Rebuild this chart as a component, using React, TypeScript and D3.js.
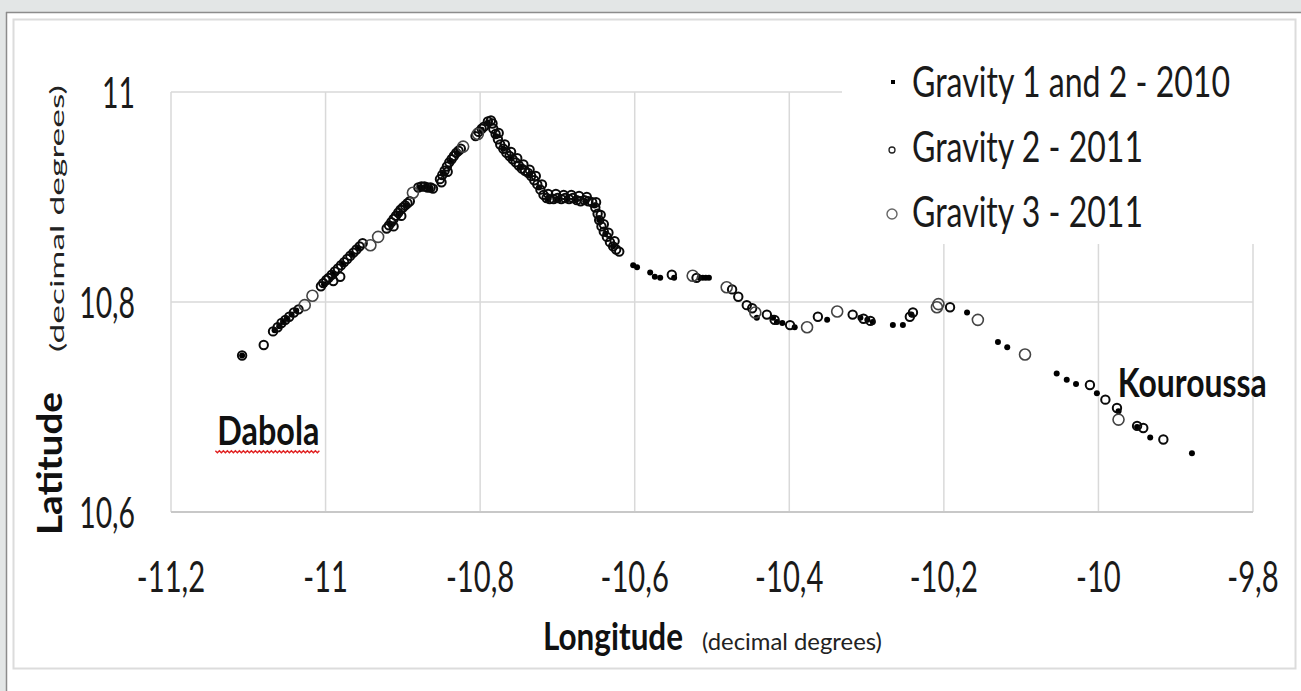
import React, { useLayoutEffect, useRef, useState } from "react";
import * as d3 from "d3";

// ---------- data (longitude, latitude in decimal degrees) ----------
const xTicks = [-11.2, -11, -10.8, -10.6, -10.4, -10.2, -10, -9.8];
const yTicks = [10.6, 10.8, 11];
const seriesNames = ["Gravity 1 and 2 - 2010", "Gravity 2 - 2011", "Gravity 3 - 2011"];

const gravity2010: [number, number][] = [
  [-11.108, 10.749],
  [-11.066, 10.773], [-11.06, 10.777], [-11.055, 10.781], [-11.05, 10.784], [-11.044, 10.788], [-11.038, 10.792],
  [-11.002, 10.817], [-10.99, 10.827], [-10.978, 10.836], [-10.966, 10.845], [-10.958, 10.851],
  [-10.916, 10.874], [-10.906, 10.884], [-10.896, 10.892],
  [-10.878, 10.909], [-10.87, 10.91], [-10.864, 10.908],
  [-10.848, 10.922], [-10.838, 10.934], [-10.83, 10.942],
  [-10.798, 10.964], [-10.79, 10.971],
  [-10.78, 10.958], [-10.77, 10.946], [-10.76, 10.937], [-10.748, 10.928], [-10.736, 10.921], [-10.724, 10.909],
  [-10.712, 10.898], [-10.7, 10.898], [-10.688, 10.898], [-10.676, 10.897], [-10.664, 10.896], [-10.652, 10.892],
  [-10.646, 10.878], [-10.638, 10.865], [-10.628, 10.853],
  [-10.602, 10.835], [-10.597, 10.833], [-10.58, 10.828], [-10.574, 10.824], [-10.567, 10.823], [-10.549, 10.823],
  [-10.516, 10.823], [-10.512, 10.823], [-10.508, 10.823], [-10.504, 10.823],
  [-10.442, 10.785], [-10.421, 10.785], [-10.416, 10.781], [-10.409, 10.78], [-10.393, 10.776], [-10.351, 10.783],
  [-10.308, 10.785], [-10.299, 10.783], [-10.292, 10.781], [-10.266, 10.778], [-10.253, 10.778], [-10.242, 10.788],
  [-10.17, 10.79], [-10.13, 10.762], [-10.118, 10.757], [-10.054, 10.732], [-10.041, 10.726], [-10.029, 10.722],
  [-10.002, 10.713], [-9.974, 10.696], [-9.95, 10.681], [-9.933, 10.671], [-9.879, 10.656],
];

const gravity2_2011: [number, number][] = [
  [-11.108, 10.749], [-11.08, 10.759],
  [-11.068, 10.772], [-11.062, 10.776], [-11.057, 10.78], [-11.052, 10.783], [-11.047, 10.786], [-11.041, 10.79], [-11.035, 10.793],
  [-11.006, 10.815], [-11.003, 10.818], [-10.999, 10.821], [-10.996, 10.823], [-10.992, 10.826], [-10.988, 10.829],
  [-10.984, 10.832], [-10.98, 10.835], [-10.976, 10.838], [-10.972, 10.841], [-10.968, 10.844], [-10.964, 10.847],
  [-10.96, 10.85], [-10.956, 10.853], [-10.952, 10.856], [-10.981, 10.824], [-10.99, 10.82],
  [-10.921, 10.87], [-10.918, 10.873], [-10.915, 10.876], [-10.912, 10.879], [-10.909, 10.882], [-10.906, 10.885],
  [-10.903, 10.888], [-10.9, 10.89], [-10.897, 10.892], [-10.894, 10.894], [-10.891, 10.896], [-10.912, 10.872], [-10.902, 10.882],
  [-10.88, 10.909], [-10.876, 10.91], [-10.872, 10.91], [-10.868, 10.909], [-10.864, 10.909], [-10.861, 10.908],
  [-10.852, 10.917], [-10.849, 10.921], [-10.846, 10.925], [-10.843, 10.929], [-10.84, 10.933], [-10.837, 10.936],
  [-10.834, 10.939], [-10.831, 10.942], [-10.828, 10.944], [-10.825, 10.946], [-10.85, 10.914], [-10.842, 10.924],
  [-10.806, 10.958], [-10.802, 10.962], [-10.798, 10.965], [-10.795, 10.967],
  [-10.79, 10.972], [-10.786, 10.973], [-10.784, 10.97],
  [-10.783, 10.965], [-10.78, 10.96], [-10.777, 10.955], [-10.774, 10.95], [-10.77, 10.946], [-10.766, 10.942],
  [-10.762, 10.939], [-10.758, 10.936], [-10.754, 10.933], [-10.75, 10.93], [-10.746, 10.927], [-10.742, 10.925],
  [-10.738, 10.923], [-10.734, 10.92], [-10.73, 10.916], [-10.726, 10.912], [-10.722, 10.907], [-10.718, 10.902],
  [-10.714, 10.899], [-10.71, 10.898], [-10.705, 10.898], [-10.7, 10.899], [-10.695, 10.898], [-10.69, 10.899],
  [-10.685, 10.898], [-10.68, 10.899], [-10.675, 10.897], [-10.67, 10.896], [-10.665, 10.897], [-10.66, 10.896],
  [-10.655, 10.895], [-10.651, 10.89], [-10.648, 10.884], [-10.646, 10.878], [-10.643, 10.872], [-10.64, 10.867],
  [-10.636, 10.862], [-10.632, 10.857], [-10.628, 10.853], [-10.624, 10.85], [-10.62, 10.848],
  [-10.776, 10.961], [-10.768, 10.95], [-10.76, 10.943], [-10.752, 10.937], [-10.744, 10.931], [-10.736, 10.926],
  [-10.728, 10.92], [-10.72, 10.912], [-10.712, 10.903], [-10.702, 10.903], [-10.692, 10.902], [-10.682, 10.902],
  [-10.672, 10.901], [-10.662, 10.9], [-10.65, 10.895], [-10.644, 10.883], [-10.64, 10.874], [-10.634, 10.866], [-10.626, 10.858],
  [-10.552, 10.826], [-10.52, 10.823], [-10.474, 10.812], [-10.466, 10.805], [-10.455, 10.797], [-10.448, 10.794],
  [-10.429, 10.788], [-10.419, 10.783], [-10.399, 10.778], [-10.363, 10.786], [-10.318, 10.788], [-10.304, 10.784],
  [-10.295, 10.782], [-10.244, 10.786], [-10.24, 10.79], [-10.192, 10.795], [-10.011, 10.721], [-9.991, 10.707],
  [-9.976, 10.699], [-9.95, 10.682], [-9.942, 10.68], [-9.916, 10.669],
];

const gravity3_2011: [number, number][] = [
  [-11.027, 10.797], [-11.017, 10.806], [-10.942, 10.854], [-10.932, 10.862], [-10.887, 10.904], [-10.822, 10.948],
  [-10.803, 10.96], [-10.525, 10.825], [-10.481, 10.814], [-10.444, 10.79], [-10.377, 10.776], [-10.338, 10.791],
  [-10.209, 10.795], [-10.207, 10.798], [-10.156, 10.783], [-10.095, 10.75], [-9.974, 10.688],
];

const places = [
  { name: "Dabola", lon: -11.14, lat: 10.664, width: 102 },
  { name: "Kouroussa", lon: -9.975, lat: 10.71, width: 149 },
];

const FONT = "Lato, 'Open Sans', sans-serif";

// Text squeezed horizontally (like the reference) to a target width, measured after layout.
function FitText(props: {
  x: number; y: number; width: number; guess: number; children: string;
  fontSize: number; fontWeight?: string; fill?: string; rotate?: boolean; thick?: number;
}) {
  const ref = useRef<SVGTextElement>(null);
  const [s, setS] = useState(props.guess);
  useLayoutEffect(() => {
    if (ref.current) {
      const len = ref.current.getComputedTextLength();
      if (len > 0) setS(props.width / len);
    }
  }, [props.width, props.children]);
  const tf = props.rotate
    ? `translate(${props.x},${props.y}) scale(${props.thick ?? 1},1) rotate(-90) scale(${s},1)`
    : `translate(${props.x},${props.y}) scale(${s},1)`;
  return (
    <g transform={tf}>
      <text ref={ref} x={0} y={0} fontSize={props.fontSize} fontWeight={props.fontWeight}
        fill={props.fill ?? "#111"}>{props.children}</text>
    </g>
  );
}

export default function App() {
  const W = 1301, H = 691;
  const x = d3.scaleLinear().domain([-11.2, -9.8]).range([171, 1253]);
  const y = d3.scaleLinear().domain([10.6, 11]).range([512, 92]);
  const fmt = (v: number) => String(+v.toFixed(1)).replace(".", ",");

  // spell-check wavy underline under "Dabola"
  const dab = places[0];
  const ux0 = x(dab.lon) - 2, ux1 = ux0 + dab.width + 4, uy = y(dab.lat) + 6;
  const wave = d3.range(ux0, ux1, 2).map((px, i) => [px, uy + (i % 2 === 0 ? 0 : 2)] as [number, number]);
  const wavePath = d3.line()(wave) || "";

  const legendRows = [
    { name: seriesNames[0], by: 97, w: 318 },
    { name: seriesNames[1], by: 162, w: 231 },
    { name: seriesNames[2], by: 227, w: 231 },
  ];

  return (
    <svg width={W} height={H} style={{ position: "absolute", left: 0, top: 0 }} fontFamily={FONT}>
      <rect x={0} y={0} width={W} height={H} fill="#e3e6e6" />
      <rect x={6} y={12} width={W - 6} height={H - 12} fill="#ffffff" />
      <line x1={6} y1={12.5} x2={W} y2={12.5} stroke="#8c8c8c" strokeWidth={1.5} />
      <line x1={6.5} y1={12} x2={6.5} y2={H} stroke="#8c8c8c" strokeWidth={1.5} />
      <rect x={13.5} y={19.5} width={1282} height={649} fill="#fff" stroke="#dcdcdc" strokeWidth={2} />

      {/* gridlines */}
      {xTicks.map((t) => (
        <line key={"gx" + t} x1={x(t)} x2={x(t)} y1={y(11)} y2={y(10.6)} stroke="#d9d9d9" strokeWidth={1.5} />
      ))}
      {yTicks.map((t) => (
        <line key={"gy" + t} x1={x(-11.2)} x2={x(-9.8)} y1={y(t)} y2={y(t)}
          stroke={t === 10.6 ? "#c8c8c8" : "#d9d9d9"} strokeWidth={t === 10.6 ? 2 : 1.5} />
      ))}

      {/* legend background */}
      <rect x={842} y={50} width={420} height={194} fill="#fff" />

      {/* y tick labels */}
      {yTicks.map((t) => (
        <g key={"yl" + t} transform={`translate(135,${y(t) + 16}) scale(0.66,1)`}>
          <text textAnchor="end" fontSize={43} fill="#1a1a1a">{fmt(t)}</text>
        </g>
      ))}
      {/* x tick labels */}
      {xTicks.map((t) => (
        <g key={"xl" + t} transform={`translate(${x(t)},592) scale(0.68,1)`}>
          <text textAnchor="middle" fontSize={43} fill="#1a1a1a">{fmt(t)}</text>
        </g>
      ))}

      {/* axis titles */}
      <FitText x={543} y={650} width={140} guess={0.83} fontSize={38} fontWeight="bold">Longitude</FitText>
      <FitText x={702} y={650} width={180} guess={0.85} fontSize={24} fill="#222">(decimal degrees)</FitText>
      <FitText x={62} y={535} width={143} guess={1} fontSize={40} fontWeight="bold" rotate thick={0.85}>Latitude</FitText>
      <FitText x={64} y={352} width={267} guess={1.2} fontSize={25} fill="#222" rotate thick={0.75}>(decimal degrees)</FitText>

      {/* series */}
      {gravity2010.map((d, i) => (
        <circle key={"a" + i} cx={x(d[0])} cy={y(d[1])} r={3} fill="#000" />
      ))}
      {gravity2_2011.map((d, i) => (
        <circle key={"b" + i} cx={x(d[0])} cy={y(d[1])} r={4.2} fill="none" stroke="#0a0a0a" strokeWidth={2} />
      ))}
      {gravity3_2011.map((d, i) => (
        <circle key={"c" + i} cx={x(d[0])} cy={y(d[1])} r={5.5} fill="none" stroke="#444" strokeWidth={1.6} />
      ))}

      {/* place labels */}
      {places.map((p) => (
        <FitText key={p.name} x={x(p.lon)} y={y(p.lat)} width={p.width} guess={0.8} fontSize={40} fontWeight="bold">{p.name}</FitText>
      ))}
      <path d={wavePath} fill="none" stroke="#e02020" strokeWidth={1.4} />

      {/* legend */}
      {legendRows.map((r, i) => (
        <g key={"lg" + i}>
          {i === 0 && <rect x={891} y={r.by - 17} width={4} height={4} fill="#000" />}
          {i === 1 && <circle cx={892} cy={r.by - 12} r={3} fill="none" stroke="#222" strokeWidth={1.3} />}
          {i === 2 && <circle cx={892} cy={r.by - 13} r={5} fill="none" stroke="#666" strokeWidth={1.4} />}
          <FitText x={912} y={r.by} width={r.w} guess={0.75} fontSize={42} fill="#1a1a1a">{r.name}</FitText>
        </g>
      ))}
    </svg>
  );
}
